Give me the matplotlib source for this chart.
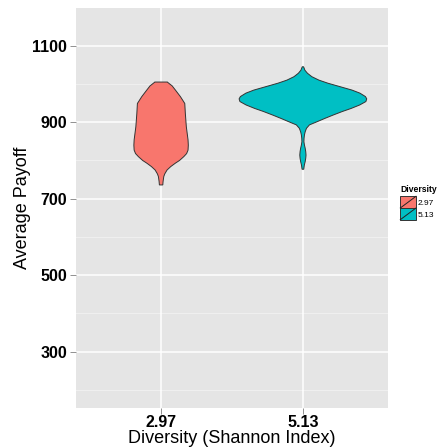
import numpy as np
import matplotlib
matplotlib.use("Agg")
import matplotlib.pyplot as plt
from matplotlib.patches import Rectangle
from matplotlib.lines import Line2D

plt.rcParams['font.family'] = ['Liberation Sans', 'DejaVu Sans']

# ---- data ----
categories = ["2.97", "5.13"]
colors = ["#F8766D", "#00BFC4"]

# violin profile for 2.97: payoff levels and half-widths (x data units)
pink_y = [1005, 1004, 995, 984, 967, 949, 923, 888, 854, 840, 827, 818, 810, 800, 793, 784, 775, 765, 758, 745, 736]
pink_w = [0.045, 0.047, 0.078, 0.101, 0.136, 0.167, 0.171, 0.178, 0.190, 0.192, 0.190, 0.180, 0.160, 0.130, 0.101, 0.068, 0.042, 0.026, 0.019, 0.014, 0.012]

# violin profile for 5.13
teal_y = [1045, 1042, 1036, 1028, 1019, 1010, 1002, 993, 984, 976, 967, 961, 954, 945, 936, 928, 919, 910, 901, 893, 884, 875, 867, 858, 849, 840, 832, 823, 814, 806, 797, 788, 777]
teal_w = [0.004, 0.008, 0.014, 0.032, 0.063, 0.113, 0.176, 0.261, 0.346, 0.402, 0.441, 0.450, 0.444, 0.400, 0.340, 0.278, 0.215, 0.155, 0.098, 0.046, 0.025, 0.016, 0.011, 0.008, 0.007, 0.011, 0.016, 0.020, 0.022, 0.020, 0.016, 0.010, 0.006]

profiles = [(pink_y, pink_w), (teal_y, teal_w)]

y_major = [300, 500, 700, 900, 1100]
y_minor = [200, 400, 600, 800, 1000]

# ---- figure ----
fig = plt.figure(figsize=(4.39, 4.48), dpi=100)
ax = fig.add_axes([76/439, 1 - 407.7/448, 312/439, 399.7/448])
ax.set_facecolor("#E5E5E5")
ax.set_xlim(0.4, 2.6)
ax.set_ylim(153.6, 1198.6)

for v in y_minor:
    ax.axhline(v, color="#F2F2F2", lw=0.6, zorder=0)
for v in y_major:
    ax.axhline(v, color="white", lw=1.1, zorder=0)
for i in range(len(categories)):
    ax.axvline(i + 1, color="white", lw=1.1, zorder=0)

for i, (yy, ww) in enumerate(profiles):
    c = i + 1
    yy = np.array(yy, float)
    ww = np.array(ww, float)
    xs = np.concatenate([c - ww, (c + ww)[::-1]])
    ys = np.concatenate([yy, yy[::-1]])
    ax.fill(xs, ys, facecolor=colors[i], edgecolor="#333333", lw=0.7, zorder=2)

for s in ax.spines.values():
    s.set_visible(False)

ax.set_xticks([1, 2])
ax.set_xticklabels(categories, fontsize=11.5, fontweight="bold", color="black")
ax.set_yticks(y_major)
ax.set_yticklabels([str(v) for v in y_major], fontsize=11.5, fontweight="bold", color="black")
ax.tick_params(axis="both", length=4, width=0.6, color="#7F7F7F")
ax.tick_params(axis="x", pad=1.5)
ax.tick_params(axis="y", pad=2.5)

# x title placed below the tick labels
fig.text(232/439, 1 - 443/448, "Diversity (Shannon Index)", fontsize=13,
         ha="center", va="baseline")
ax.set_ylabel("Average Payoff", fontsize=13, labelpad=1)

# ---- legend ----
fig.text(400.7/439, 1 - 190/448, "Diversity", fontsize=6.2, fontweight="bold", va="center", ha="left")
box_w, box_h = 15.7, 11.7
for i, lab in enumerate(categories):
    x0 = 400.3
    y0 = 196.3 + i * box_h
    r = Rectangle((x0/439, 1 - (y0 + box_h)/448), box_w/439, box_h/448,
                  transform=fig.transFigure, facecolor=colors[i], edgecolor="#333333", lw=0.7)
    fig.add_artist(r)
    fig.add_artist(Line2D([x0/439, (x0 + box_w)/439], [1 - (y0 + box_h)/448, 1 - y0/448],
                          transform=fig.transFigure, color="#222222", lw=0.7))
    fig.text(417.3/439, 1 - (y0 + box_h/2 + 1.5)/448, lab, fontsize=6, va="center", ha="left")

fig.savefig("out.png", dpi=100)
